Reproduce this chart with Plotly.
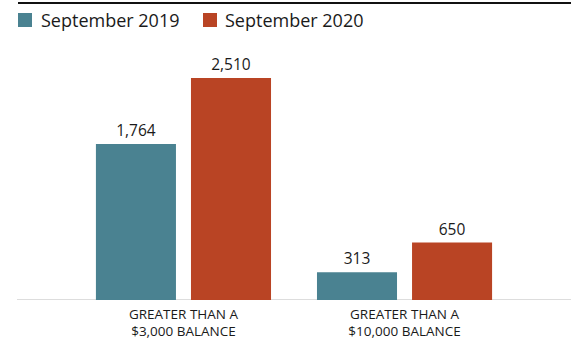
import plotly.graph_objects as go

categories = ["GREATER THAN A<br>$3,000 BALANCE", "GREATER THAN A<br>$10,000 BALANCE"]
series_names = ["September 2019", "September 2020"]
values_2019 = [1764, 313]
values_2020 = [2510, 650]
colors = ["#4A8291", "#B94424"]

fig = go.Figure()
for name, vals, col in zip(series_names, [values_2019, values_2020], colors):
    fig.add_trace(go.Bar(
        x=categories, y=vals, name=name, marker=dict(color=col, line=dict(width=0)),
        texttemplate="%{y:,}", textposition="outside", cliponaxis=False,
        textfont=dict(family="Open Sans", size=15.5, color="#1a1a1a", weight=500),
        showlegend=False,
    ))

W, H = 571, 339
L, T, B = 17, 45, 39
pw, ph = W - L, H - T - B

def px_x(px):
    return (px - L) / pw

def px_y(py):
    return (H - B - py) / ph

shapes = [
    dict(type="line", xref="paper", yref="paper", x0=px_x(18), x1=1.0, y0=px_y(3), y1=px_y(3),
         line=dict(color="#111111", width=2)),
    dict(type="line", xref="paper", yref="y", x0=0, x1=1.0, y0=0, y1=0,
         line=dict(color="#DDDDDD", width=2), layer="below"),
]
annotations = []
legend_x = [(18, 39), (203, 223)]
for name, col, (sx, tx) in zip(series_names, colors, legend_x):
    shapes.append(dict(type="rect", xref="paper", yref="paper",
                       x0=px_x(sx), x1=px_x(sx + 14), y0=px_y(27), y1=px_y(13),
                       fillcolor=col, line=dict(width=0)))
    annotations.append(dict(xref="paper", yref="paper", x=px_x(tx), y=px_y(20.5),
                            xanchor="left", yanchor="middle", showarrow=False, text=name,
                            font=dict(family="Open Sans", size=18, color="#1a1a1a", weight=500)))

fig.update_layout(
    width=W, height=H,
    margin=dict(l=L, r=0, t=T, b=B, autoexpand=False),
    paper_bgcolor="white", plot_bgcolor="white",
    barmode="group", bargap=0.14, bargroupgap=0.158,
    showlegend=False,
    xaxis=dict(range=[-0.753, 1.753], showgrid=False, zeroline=False, showline=False,
               ticks="", ticklabelstandoff=4,
               tickfont=dict(family="Open Sans", size=13.5, color="#1a1a1a", weight=500)),
    yaxis=dict(range=[0, 2884], visible=False, showgrid=False, zeroline=False),
    shapes=shapes,
    annotations=annotations,
)
fig.write_html("out.html")
